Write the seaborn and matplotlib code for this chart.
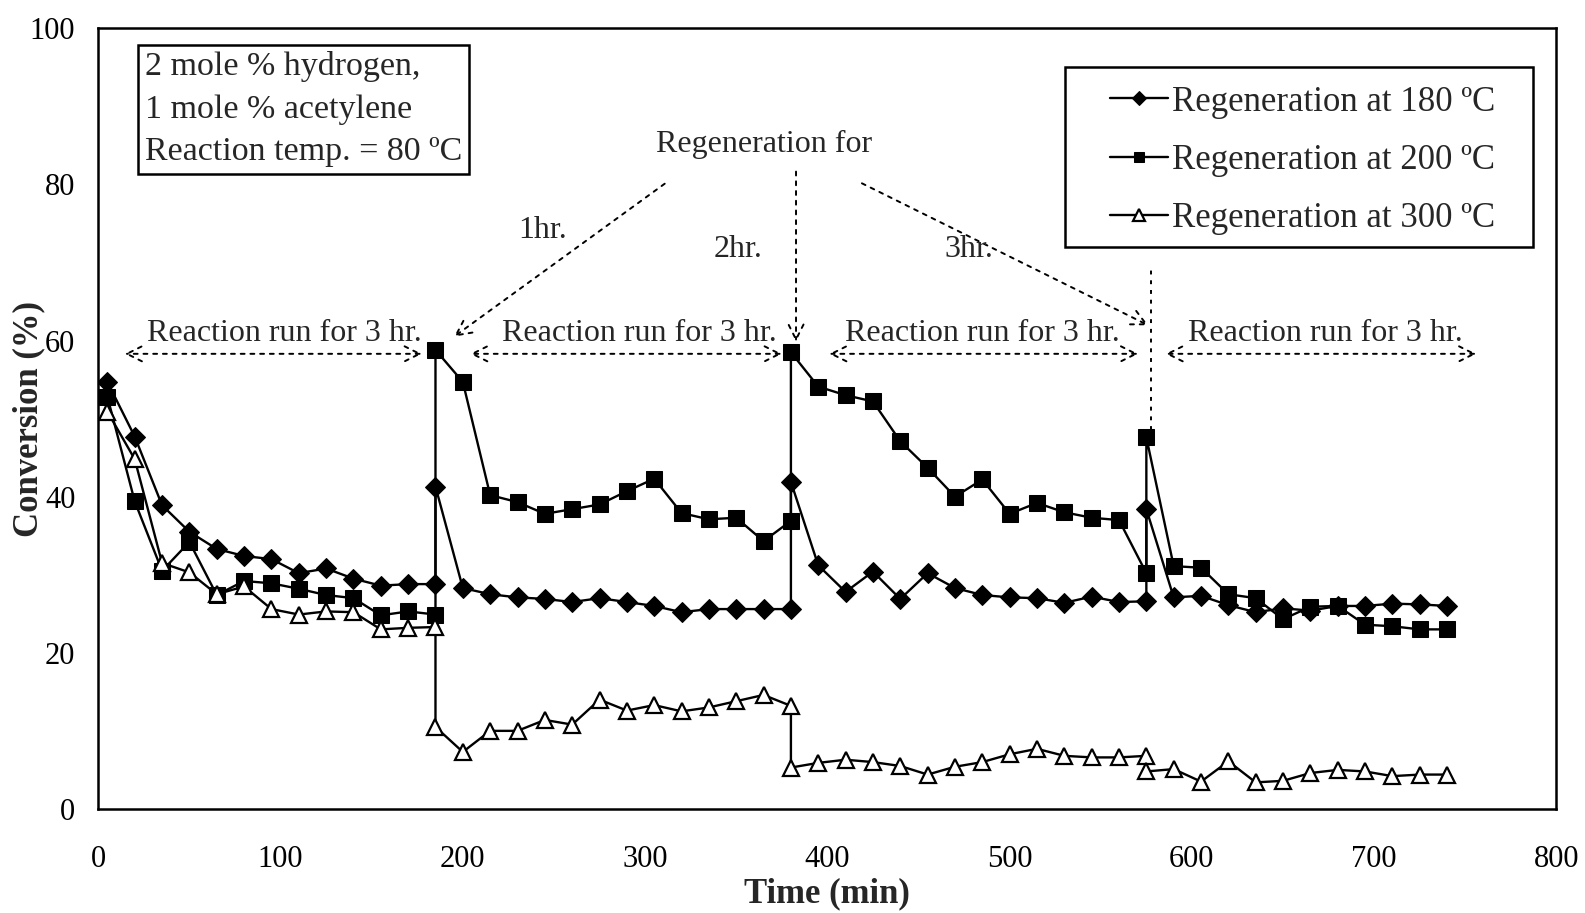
import numpy as np
import pandas as pd
import matplotlib
matplotlib.use("Agg")
import matplotlib.pyplot as plt
from matplotlib.patches import Rectangle
import seaborn as sns

# ---- data (time in min, conversion in %) ----
time = [5, 20, 35, 50, 65, 80, 95, 110, 125, 140, 155, 170, 185, 185,
        200, 215, 230, 245, 260, 275, 290, 305, 320, 335, 350, 365, 380, 380,
        395, 410, 425, 440, 455, 470, 485, 500, 515, 530, 545, 560, 575, 575,
        590, 605, 620, 635, 650, 665, 680, 695, 710, 725, 740]

conv_180 = [54.7, 47.7, 38.9, 35.5, 33.3, 32.4, 32.0, 30.2, 30.8, 29.5, 28.6, 28.8, 28.8, 41.3,
            28.3, 27.5, 27.1, 26.9, 26.5, 27.0, 26.5, 26.0, 25.2, 25.6, 25.6, 25.6, 25.6, 41.9,
            31.2, 27.8, 30.4, 26.9, 30.2, 28.3, 27.4, 27.1, 27.0, 26.4, 27.2, 26.5, 26.6, 38.4,
            27.1, 27.3, 26.1, 25.2, 25.7, 25.4, 26.0, 26.0, 26.3, 26.2, 26.0]

conv_200 = [52.8, 39.4, 30.5, 34.2, 27.4, 29.2, 28.9, 28.2, 27.4, 27.0, 24.8, 25.3, 24.9, 58.8,
            54.7, 40.2, 39.3, 37.8, 38.4, 39.0, 40.7, 42.3, 37.9, 37.1, 37.3, 34.3, 36.9, 58.5,
            54.1, 53.0, 52.2, 47.1, 43.7, 40.0, 42.2, 37.8, 39.2, 38.0, 37.3, 37.0, 30.2, 47.6,
            31.1, 30.9, 27.5, 27.0, 24.3, 25.9, 26.0, 23.6, 23.4, 23.0, 23.0]

conv_300 = [50.9, 44.8, 31.5, 30.3, 27.5, 28.5, 25.6, 24.9, 25.3, 25.2, 23.0, 23.2, 23.3, 10.5,
            7.3, 10.0, 10.0, 11.4, 10.8, 14.0, 12.6, 13.3, 12.5, 13.0, 13.8, 14.6, 13.2, 5.3,
            5.9, 6.3, 6.0, 5.5, 4.4, 5.4, 6.0, 7.0, 7.7, 6.8, 6.6, 6.6, 6.8, 4.8,
            5.1, 3.5, 6.1, 3.4, 3.6, 4.6, 5.0, 4.8, 4.2, 4.4, 4.4]

series_labels = ["Regeneration at 180 \u00baC", "Regeneration at 200 \u00baC", "Regeneration at 300 \u00baC"]
x_ticks = [0, 100, 200, 300, 400, 500, 600, 700, 800]
y_ticks = [0, 20, 40, 60, 80, 100]

sns.set_theme(style="white")
plt.rcParams['font.family'] = ['Liberation Serif', 'DejaVu Serif']

fig = plt.figure(figsize=(15.85, 9.13), dpi=100)
ax = fig.add_axes([0.062, 0.114, 0.920, 0.855])

styles = [
    dict(marker="D", markersize=10, markerfacecolor="black", markeredgecolor="black"),
    dict(marker="s", markersize=11, markerfacecolor="black", markeredgecolor="black"),
    dict(marker="^", markersize=12, markerfacecolor="white", markeredgecolor="black", markeredgewidth=1.6),
]
for conv, lab, st in zip([conv_180, conv_200, conv_300], series_labels, styles):
    df = pd.DataFrame({"time": time, "conv": conv})
    sns.lineplot(data=df, x="time", y="conv", estimator=None, sort=False,
                 color="black", linewidth=1.7, ax=ax, label=lab, **st)

ax.set_xlim(0, 800)
ax.set_ylim(0, 100)
ax.set_xticks(x_ticks)
ax.set_yticks(y_ticks)
ax.tick_params(axis="both", direction="inout", length=14, width=1.6, labelsize=22,
               colors="black")
ax.tick_params(axis="x", pad=19)
ax.tick_params(axis="y", pad=9.5)
for s in ax.spines.values():
    s.set_color("black")
    s.set_linewidth(1.8)
ax.set_xlabel("Time (min)", fontsize=25, fontweight="bold")
ax.set_ylabel("Conversion (%)", fontsize=25, fontweight="bold")
ax.xaxis.set_label_coords(0.5, -0.087)
ax.yaxis.set_label_coords(-0.036, 0.5)

# legend (frame drawn separately to match the wide padding)
ax.add_patch(Rectangle((0.663, 0.720), 0.321, 0.230, transform=ax.transAxes,
                       facecolor="white", edgecolor="black", linewidth=1.8, zorder=4))
leg = ax.legend(loc="upper left", bbox_to_anchor=(0.694, 0.9266), fontsize=25,
                frameon=False, handlelength=1.65, handletextpad=0.12,
                labelspacing=0.73, borderpad=0, borderaxespad=0, markerscale=0.7)
leg.set_zorder(5)

# condition box
ax.text(25.8, 97.05, "2 mole % hydrogen,\n1 mole % acetylene\nReaction temp. = 80 \u00baC",
        fontsize=24.5, va="top", ha="left", linespacing=1.5,
        bbox=dict(boxstyle="square,pad=0.2", facecolor="white", edgecolor="black", linewidth=1.8))

# reaction-run arrows
dotted_arrow = dict(arrowstyle="<->,head_length=0.9,head_width=0.45", linestyle=(0, (2, 3)),
                    color="black", linewidth=1.4)
runs = [(13, 179), (202.5, 376.5), (399.5, 572), (584, 757.5)]
run_text_x = [102, 296.7, 485.3, 673.3]
for (a, b), tx in zip(runs, run_text_x):
    ax.annotate("", xy=(a, 58.3), xytext=(b, 58.3), arrowprops=dotted_arrow)
    ax.text(tx, 60.9, "Reaction run for 3 hr.", fontsize=23, ha="center", va="center")

# regeneration annotations
ax.text(365.5, 85.1, "Regeneration for", fontsize=23, ha="center", va="center")
single = dict(arrowstyle="->,head_length=0.9,head_width=0.45", linestyle=(0, (2, 3)),
              color="black", linewidth=1.4)
ax.annotate("", xy=(194, 60.3), xytext=(312, 80.3), arrowprops=single)
ax.annotate("", xy=(382.8, 59.5), xytext=(382.8, 82.0), arrowprops=single)
ax.annotate("", xy=(577.4, 61.8), xytext=(417.6, 80.3), arrowprops=single)
ax.plot([577.4, 577.4], [48.5, 69.3], linestyle=(0, (2, 3)), color="black", linewidth=1.4)
ax.text(244, 74.1, "1hr.", fontsize=23, ha="center", va="center")
ax.text(351, 71.6, "2hr.", fontsize=23, ha="center", va="center")
ax.text(477.6, 71.6, "3hr.", fontsize=23, ha="center", va="center")

fig.savefig("out.png", dpi=100, facecolor="white")
